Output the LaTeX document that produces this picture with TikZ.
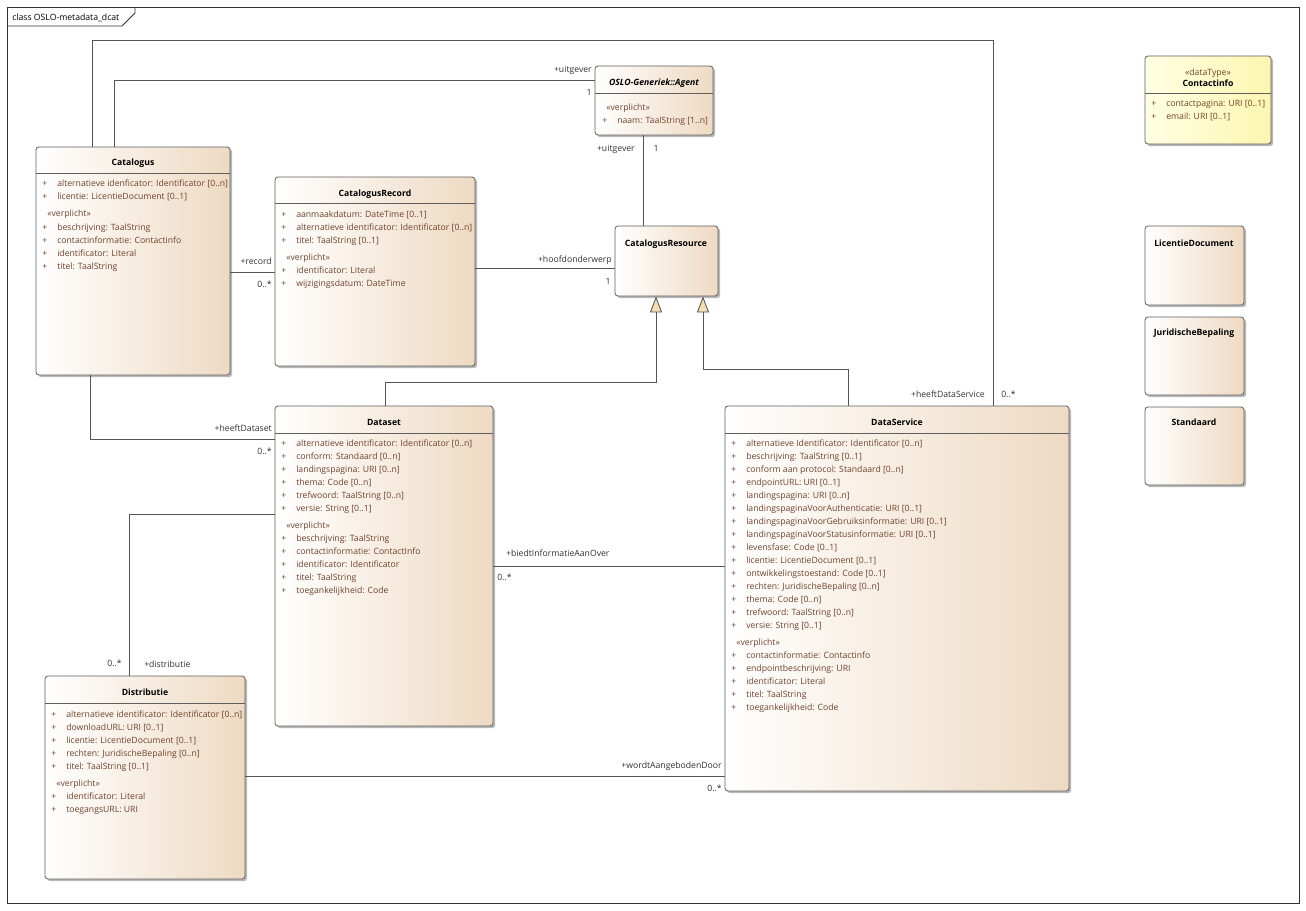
\documentclass[tikz,border=0pt]{standalone}
\usepackage{fontspec}
\setmainfont{Open Sans}
\usetikzlibrary{arrows.meta,shadows,fit}
\definecolor{tanc}{RGB}{238,218,194}
\definecolor{yelc}{RGB}{252,246,176}
\definecolor{yell}{RGB}{255,255,228}
\definecolor{bordc}{RGB}{95,95,95}
\definecolor{linec}{RGB}{85,85,85}
\definecolor{attrc}{RGB}{112,66,44}
\definecolor{labc}{RGB}{50,50,50}
\definecolor{genfill}{RGB}{245,222,180}
\newcommand\pl{\llap{\makebox[11.25pt][l]{+}}}
\newcommand\ufont{\fontsize{6.5}{8}\selectfont}
\tikzset{
  classbox/.style={draw=bordc, line width=0.6pt, rounded corners=2.2pt,
    left color=white, right color=tanc, inner sep=0pt,
    drop shadow={shadow xshift=1.6pt, shadow yshift=-1.6pt, opacity=0.28, fill=black}},
  yelbox/.style={classbox, left color=yell, right color=yelc},
  hdrline/.style={draw=bordc, line width=0.6pt},
  attr/.style={anchor=west, inner sep=0pt, font=\ufont, text=attrc, text height=6.2pt, text depth=1.4pt},
  stereo/.style={attr},
  ttl/.style={inner sep=0pt, font=\ufont\bfseries, text=black, text height=6.2pt, text depth=1.4pt},
  lab/.style={inner sep=0pt, font=\ufont, text=labc, text height=6.2pt, text depth=1.4pt},
  conn/.style={draw=linec, line width=0.65pt},
  gen/.style={conn, -{Triangle[width=9pt,length=12pt,fill=genfill]}},
}
\newcommand\ubox[6][classbox]{%
  \coordinate (#2-nw) at (#3,#4);
  \coordinate (#2-se) at (#5,#6);
  \node[#1, fit=(#2-nw)(#2-se)] (#2) {};}
\begin{document}
\begin{tikzpicture}[x=0.75pt,y=-0.75pt]
\useasboundingbox (0,0) rectangle (1306,910);
\fill[white] (0,0) rectangle (1306,910);
% frame
\draw[black!80, line width=0.6pt] (7,7) rectangle (1299,903);
\draw[black!80, line width=0.6pt] (7,26) -- (122,26) -- (135,13) -- (135,7);
\node[lab, anchor=west, text=black] (frame-label) at (12,17) {class OSLO-metadata\_dcat};

% bend coordinates
\coordinate (p1) at (114,80);
\coordinate (p2a) at (92,40);
\coordinate (p2b) at (993,40);
\coordinate (p3) at (643,100);
\coordinate (p4) at (250,272);
\coordinate (p5) at (550,268);
\coordinate (p6) at (90,439);
\coordinate (p7) at (129,514);
\coordinate (p8) at (600,566);
\coordinate (p9) at (500,776);
\coordinate (g1a) at (385,382);
\coordinate (g1b) at (656,382);
\coordinate (g2a) at (848,369);
\coordinate (g2b) at (703,369);

% boxes
\ubox{cat}{36}{147}{230}{375}
\ubox{rec}{275}{177}{475}{366}
\ubox{agent}{595}{66}{713}{135}
\ubox{res}{615}{226}{718}{296}
\ubox{ds}{275}{406}{493}{726}
\ubox{srv}{725}{406}{1069}{791}
\ubox{dist}{45}{676}{245}{879}
\ubox[yelbox]{ci}{1145}{56}{1271}{144}
\ubox{lic}{1145}{226}{1244}{305}
\ubox{jur}{1145}{317}{1244}{395}
\ubox{std}{1145}{407}{1244}{485}

% header lines
\draw[hdrline] (36,173) -- (230,173);
\draw[hdrline] (275,203) -- (475,203);
\draw[hdrline] (595,93) -- (713,93);
\draw[hdrline] (275,433) -- (493,433);
\draw[hdrline] (725,433) -- (1069,433);
\draw[hdrline] (45,703) -- (245,703);
\draw[hdrline] (1145,93) -- (1271,93);

% connectors
\draw[conn] (p1 |- cat.north) -- (p1) -- (p1 -| agent.west);
\draw[conn] (p2a |- cat.north) -- (p2a) -- (p2b) -- (p2b |- srv.north);
\draw[conn] (p3 |- agent.south) -- (p3 |- res.north);
\draw[conn] (p4 -| cat.east) -- (p4 -| rec.west);
\draw[conn] (p5 -| rec.east) -- (p5 -| res.west);
\draw[conn] (p6 |- cat.south) -- (p6) -- (p6 -| ds.west);
\draw[conn] (p7 -| ds.west) -- (p7) -- (p7 |- dist.north);
\draw[conn] (p8 -| ds.east) -- (p8 -| srv.west);
\draw[conn] (p9 -| dist.east) -- (p9 -| srv.west);
\draw[gen] (g1a |- ds.north) -- (g1a) -- (g1b) -- (g1b |- res.south);
\draw[gen] (g2a |- srv.north) -- (g2a) -- (g2b) -- (g2b |- res.south);

% connector labels
\node[lab, anchor=east] (l1a) at (592,69) {+uitgever};
\node[lab] (l1b) at (589,92) {1};
\node[lab, anchor=east] (l2a) at (985,394) {+heeftDataService};
\node[lab, anchor=west] (l2b) at (1001,394) {0..*};
\node[lab, anchor=east] (l3a) at (635,148) {+uitgever};
\node[lab] (l3b) at (656,148) {1};
\node[lab, anchor=east] (l4a) at (272,261) {+record};
\node[lab, anchor=east] (l4b) at (272,284) {0..*};
\node[lab, anchor=east] (l5a) at (612,259) {+hoofdonderwerp};
\node[lab] (l5b) at (608,281) {1};
\node[lab, anchor=east] (l6a) at (272,428) {+heeftDataset};
\node[lab, anchor=east] (l6b) at (272,451) {0..*};
\node[lab, anchor=east] (l7a) at (122,663) {0..*};
\node[lab, anchor=west] (l7b) at (144,664) {+distributie};
\node[lab, anchor=west] (l8a) at (506,553) {+biedtInformatieAanOver};
\node[lab, anchor=west] (l8b) at (497,577) {0..*};
\node[lab, anchor=east] (l9a) at (722,765) {+wordtAangebodenDoor};
\node[lab, anchor=east] (l9b) at (722,788) {0..*};

% titles
\node[ttl] (cat-t) at (133,162) {Catalogus};
\node[ttl] (rec-t) at (375,193) {CatalogusRecord};
\node[ttl, font=\ufont\bfseries\itshape] (agent-t) at (654,82) {OSLO-Generiek::Agent};
\node[ttl] (res-t) at (666,243) {CatalogusResource};
\node[ttl] (ds-t) at (384,422) {Dataset};
\node[ttl] (srv-t) at (897,422) {DataService};
\node[ttl] (dist-t) at (145,692) {Distributie};
\node[lab, text=attrc] (ci-s) at (1208,72) {«dataType»};
\node[ttl] (ci-t) at (1208,83) {Contactinfo};
\node[ttl] (lic-t) at (1194,243) {LicentieDocument};
\node[ttl] (jur-t) at (1194,332) {JuridischeBepaling};
\node[ttl] (std-t) at (1194,422) {Standaard};

% Catalogus attributes
\foreach \attrtext [count=\i] in {alternatieve idenficator: Identificator [0..n], licentie: LicentieDocument [0..1]}
  \node[attr] (cat-a\i) at (57,{183+13*(\i-1)}) {\pl\attrtext};
\node[stereo] (cat-s) at (47,213) {«verplicht»};
\foreach \attrtext [count=\i] in {beschrijving: TaalString, contactinformatie: Contactinfo, identificator: Literal, titel: TaalString}
  \node[attr] (cat-b\i) at (57,{227+13*(\i-1)}) {\pl\attrtext};

% CatalogusRecord attributes
\foreach \attrtext [count=\i] in {aanmaakdatum: DateTime [0..1], alternatieve identificator: Identificator [0..n], titel: TaalString [0..1]}
  \node[attr] (rec-a\i) at (296,{214+13*(\i-1)}) {\pl\attrtext};
\node[stereo] (rec-s) at (286,257) {«verplicht»};
\foreach \attrtext [count=\i] in {identificator: Literal, wijzigingsdatum: DateTime}
  \node[attr] (rec-b\i) at (296,{270+13*(\i-1)}) {\pl\attrtext};

% Agent attributes
\node[stereo] (agent-s) at (606,107) {«verplicht»};
\node[attr] (agent-b1) at (617,120) {\pl naam: TaalString [1..n]};

% Dataset attributes
\foreach \attrtext [count=\i] in {alternatieve identificator: Identificator [0..n], conform: Standaard [0..n], landingspagina: URI [0..n], thema: Code [0..n], trefwoord: TaalString [0..n], versie: String [0..1]}
  \node[attr] (ds-a\i) at (296,{443+13*(\i-1)}) {\pl\attrtext};
\node[stereo] (ds-s) at (286,525) {«verplicht»};
\foreach \attrtext [count=\i] in {beschrijving: TaalString, contactinformatie: ContactInfo, identificator: Identificator, titel: TaalString, toegankelijkheid: Code}
  \node[attr] (ds-b\i) at (296,{538+13*(\i-1)}) {\pl\attrtext};

% DataService attributes
\foreach \attrtext [count=\i] in {alternatieve Identificator: Identificator [0..n], beschrijving: TaalString [0..1], conform aan protocol: Standaard [0..n], endpointURL: URI [0..1], landingspagina: URI [0..n], landingspaginaVoorAuthenticatie: URI [0..1], landingspaginaVoorGebruiksinformatie: URI [0..1], landingspaginaVoorStatusinformatie: URI [0..1], levensfase: Code [0..1], licentie: LicentieDocument [0..1], ontwikkelingstoestand: Code [0..1], rechten: JuridischeBepaling [0..n], thema: Code [0..n], trefwoord: TaalString [0..n], versie: String [0..1]}
  \node[attr] (srv-a\i) at (746,{443+13*(\i-1)}) {\pl\attrtext};
\node[stereo] (srv-s) at (736,642) {«verplicht»};
\foreach \attrtext [count=\i] in {contactinformatie: Contactinfo, endpointbeschrijving: URI, identificator: Literal, titel: TaalString, toegankelijkheid: Code}
  \node[attr] (srv-b\i) at (746,{655+13*(\i-1)}) {\pl\attrtext};

% Distributie attributes
\foreach \attrtext [count=\i] in {alternatieve identificator: Identificator [0..n], downloadURL: URI [0..1], licentie: LicentieDocument [0..1], rechten: JuridischeBepaling [0..n], titel: TaalString [0..1]}
  \node[attr] (dist-a\i) at (66,{714+13*(\i-1)}) {\pl\attrtext};
\node[stereo] (dist-s) at (56,783) {«verplicht»};
\foreach \attrtext [count=\i] in {identificator: Literal, toegangsURL: URI}
  \node[attr] (dist-b\i) at (66,{796+13*(\i-1)}) {\pl\attrtext};

% Contactinfo attributes
\foreach \attrtext [count=\i] in {contactpagina: URI [0..1], email: URI [0..1]}
  \node[attr] (ci-a\i) at (1166,{103+13*(\i-1)}) {\pl\attrtext};
\end{tikzpicture}
\end{document}
